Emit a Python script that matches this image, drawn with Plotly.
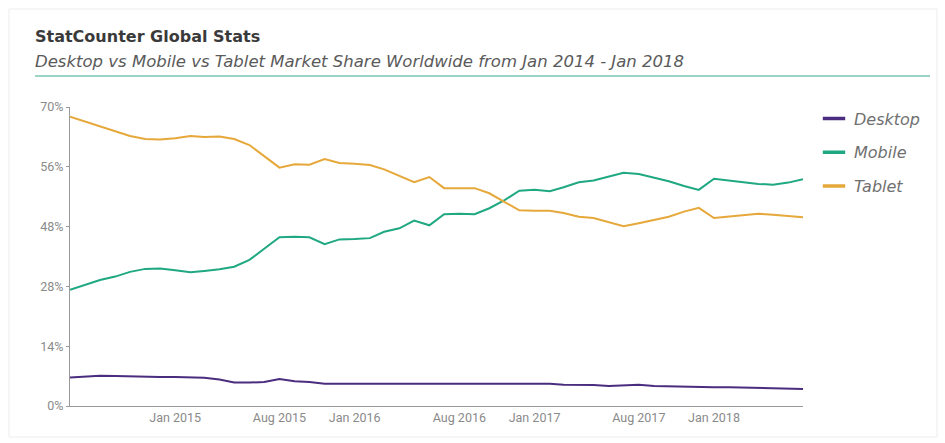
import plotly.graph_objects as go
import pandas as pd

# ---- data (monthly, Jun 2014 - Jul 2018) ----
months = pd.date_range("2014-06-01", "2018-07-01", freq="MS").strftime("%Y-%m-%d").tolist()

desktop = [6.7, 6.9, 7.1, 7.0, 6.9, 6.8, 6.8, 6.8, 6.7, 6.6, 6.2, 5.5, 5.5, 5.6, 6.3, 5.8,
           5.6, 5.2, 5.2, 5.2, 5.2, 5.2, 5.2, 5.2, 5.2, 5.2, 5.2, 5.2, 5.2, 5.2, 5.2, 5.2,
           5.2, 5.0, 5.0, 4.9, 4.7, 4.9, 5.0, 4.7, 4.6, 4.6, 4.5, 4.4, 4.4, 4.3, 4.2, 4.2,
           4.1, 4.0]

mobile = [27.2, 28.4, 29.5, 30.3, 31.4, 32.1, 32.2, 31.8, 31.3, 31.6, 32.0, 32.6, 34.2, 36.8,
          39.5, 39.6, 39.5, 37.9, 39.0, 39.1, 39.3, 40.8, 41.6, 43.4, 42.3, 44.9, 45.0, 44.9,
          46.3, 48.2, 50.4, 50.6, 50.3, 51.2, 52.4, 52.8, 53.7, 54.6, 54.3, 53.4, 52.6, 51.5,
          50.6, 53.2, 52.8, 52.4, 52.0, 51.8, 52.3, 53.1]

tablet = [67.7, 66.6, 65.4, 64.4, 63.2, 62.5, 62.4, 62.7, 63.2, 63.0, 63.1, 62.5, 61.1, 58.5,
          55.8, 56.6, 56.5, 57.8, 56.9, 56.7, 56.4, 55.4, 53.8, 52.4, 53.6, 51.0, 51.0, 51.0,
          49.8, 47.8, 45.8, 45.7, 45.7, 45.2, 44.3, 44.0, 43.0, 42.1, 42.8, 43.6, 44.3, 45.5,
          46.4, 44.0, 44.3, 44.6, 45.0, 44.8, 44.5, 44.2]

series_names = ["Desktop", "Mobile", "Tablet"]
series_colors = ["#4b2d7f", "#1fa882", "#e6a83a"]

x_tickvals = ["2015-01-01", "2015-08-01", "2016-01-01", "2016-08-01",
              "2017-01-01", "2017-08-01", "2018-01-01"]
x_ticktext = ["Jan 2015", "Aug 2015", "Jan 2016", "Aug 2016",
              "Jan 2017", "Aug 2017", "Jan 2018"]
y_tickvals = [0, 14, 28, 42, 56, 70]
y_ticktext = ["0%", "14%", "28%", "48%", "56%", "70%"]

# ---- layout geometry ----
W, H = 945, 443
L, R, T, B = 70, 803, 107, 406

def px(xp):
    return (xp - L) / (R - L)

def py(yp):
    return (B - yp) / (B - T)

FONT = "Roboto"
HFONT = "DejaVu Sans"
fig = go.Figure()
for name, vals, col in zip(series_names, [desktop, mobile, tablet], series_colors):
    fig.add_trace(go.Scatter(x=months, y=vals, mode="lines", name=name,
                             showlegend=False, line=dict(color=col, width=2)))
# legend entries with short dash symbols
for name, col in zip(series_names, series_colors):
    fig.add_trace(go.Scatter(x=[None], y=[None], mode="markers", name=name,
                             legendgroup=name,
                             marker=dict(symbol="line-ew", size=16,
                                         line=dict(color=col, width=3.5))))

fig.update_layout(
    width=W, height=H,
    margin=dict(l=L, r=W - R, t=T, b=H - B),
    paper_bgcolor="white", plot_bgcolor="white",
    font=dict(family=FONT, color="#8a8a8a", size=12),
    showlegend=True,
    legend=dict(x=px(814), y=py(101.5), xanchor="left", yanchor="top",
                font=dict(family=HFONT, size=16, color="#707070", style="italic"),
                itemwidth=30, tracegroupgap=10, bgcolor="rgba(0,0,0,0)",
                itemsizing="trace"),
    xaxis=dict(range=[months[0], months[-1]], tickvals=x_tickvals, ticktext=x_ticktext,
               showgrid=False, zeroline=False, showline=True, linecolor="#9a9a9a",
               linewidth=1, ticks="", tickfont=dict(size=12.5, color="#8a8a8a")),
    yaxis=dict(range=[0, 70], tickvals=y_tickvals, ticktext=y_ticktext,
               showgrid=False, zeroline=False, showline=True, linecolor="#9a9a9a",
               linewidth=1, ticks="outside", ticklen=3, tickcolor="#9a9a9a",
               tickfont=dict(size=12.5, color="#8a8a8a")),
    annotations=[
        dict(xref="paper", yref="paper", x=px(33), y=py(37), xanchor="left", yanchor="middle",
             text="<b>StatCounter Global Stats</b>", showarrow=False,
             font=dict(family=HFONT, size=16, color="#3a3a3a")),
        dict(xref="paper", yref="paper", x=px(33), y=py(61), xanchor="left", yanchor="middle",
             text="<i>Desktop vs Mobile vs Tablet Market Share Worldwide from Jan 2014 - Jan 2018</i>",
             showarrow=False, font=dict(family=HFONT, size=16.5, color="#5a5a5a")),
    ],
    shapes=[
        dict(type="line", xref="paper", yref="paper", x0=px(35), x1=px(930),
             y0=py(76), y1=py(76), line=dict(color="#7cc4b0", width=1.5)),
        dict(type="rect", xref="paper", yref="paper", x0=px(9), x1=px(937),
             y0=py(437), y1=py(9), line=dict(color="#ececec", width=1)),
    ],
)

fig.write_html("out.html")
